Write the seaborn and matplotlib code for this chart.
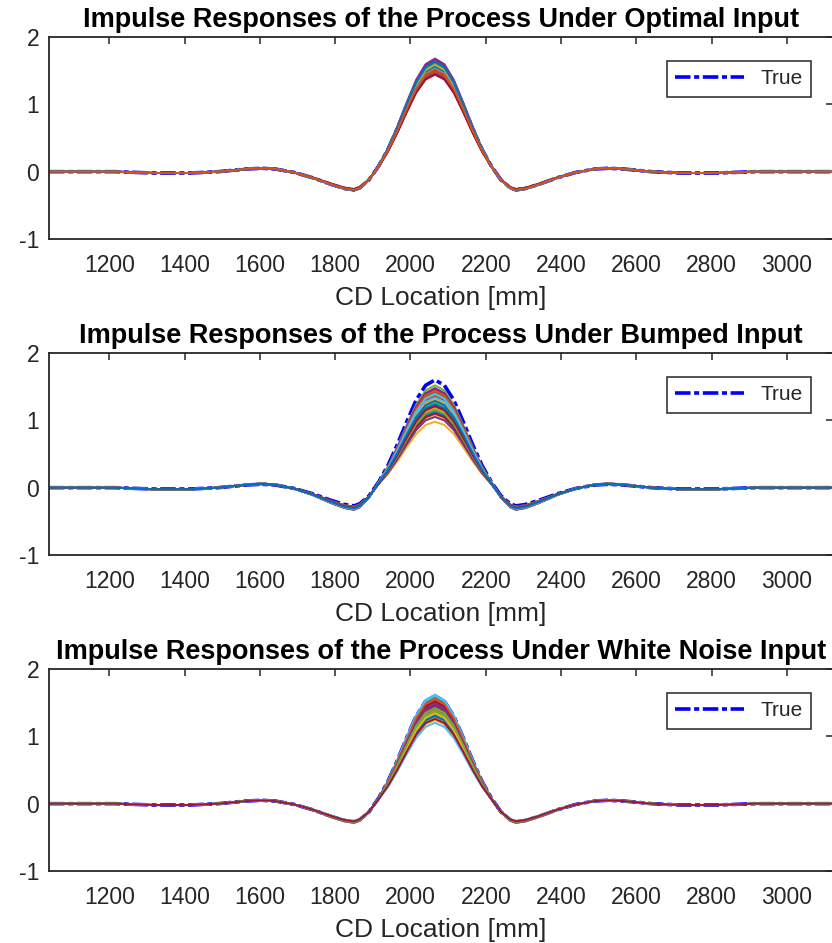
import numpy as np
import pandas as pd
import matplotlib
matplotlib.use("Agg")
import matplotlib.pyplot as plt
import seaborn as sns

# CD location grid and the true impulse response
cd_location = [1040, 1215, 1315, 1415, 1490, 1565, 1605, 1640, 1690, 1740, 1790,
               1825, 1850, 1865, 1890, 1915, 1940, 1965, 1990, 2015, 2040, 2065,
               2090, 2115, 2140, 2165, 2190, 2215, 2240, 2265, 2280, 2305, 2340,
               2390, 2440, 2490, 2525, 2565, 2640, 2715, 2815, 2915, 3125]
true_response = [0.0, 0.0, -0.02, -0.02, 0.0, 0.04, 0.05, 0.04, -0.01, -0.09, -0.19,
                 -0.25, -0.27, -0.24, -0.12, 0.08, 0.33, 0.64, 0.98, 1.30, 1.52, 1.60,
                 1.52, 1.30, 0.98, 0.64, 0.33, 0.08, -0.12, -0.24, -0.27, -0.25, -0.19,
                 -0.09, -0.01, 0.04, 0.05, 0.04, 0.0, -0.02, -0.02, 0.0, 0.0]

# peak heights and side-lobe gains of the estimated responses, per input type
optimal_peaks = [1.58, 1.55, 1.47, 1.68, 1.49, 1.64, 1.57, 1.51, 1.60, 1.45, 1.66,
                 1.54, 1.62, 1.50, 1.56, 1.48, 1.59, 1.46, 1.61, 1.53, 1.44, 1.63,
                 1.52]
optimal_sides = [1.00, 0.98, 0.97, 1.04, 0.97, 1.02, 1.00, 0.98, 1.01, 0.96, 1.03,
                 0.99, 1.02, 0.98, 1.00, 0.97, 1.01, 0.96, 1.02, 0.99, 0.96, 1.02,
                 1.00]

bumped_peaks = [1.20, 1.33, 0.98, 1.42, 1.52, 1.25, 1.36, 1.15, 1.30, 1.08, 1.46,
                1.40, 1.28, 1.22, 1.12, 1.38, 1.18, 1.48, 1.27, 1.34, 1.10, 1.24,
                1.44, 1.31, 1.05, 1.16, 1.39, 1.21, 1.29]
bumped_sides = [1.10, 1.15, 1.05, 1.18, 1.22, 1.12, 1.16, 1.08, 1.14, 1.06, 1.20,
                1.17, 1.13, 1.11, 1.07, 1.16, 1.09, 1.21, 1.12, 1.15, 1.06, 1.10,
                1.19, 1.13, 1.04, 1.08, 1.17, 1.10, 1.14]

noise_peaks = [1.58, 1.40, 1.28, 1.50, 1.36, 1.62, 1.46, 1.32, 1.54, 1.24, 1.44,
               1.38, 1.60, 1.52, 1.30, 1.56, 1.34, 1.48, 1.42, 1.20, 1.26]
noise_sides = [1.05, 1.00, 0.97, 1.03, 0.99, 1.06, 1.02, 0.98, 1.04, 0.96, 1.01,
               1.00, 1.05, 1.03, 0.97, 1.04, 0.98, 1.02, 1.01, 0.95, 0.97]

titles = ["Impulse Responses of the Process Under Optimal Input",
          "Impulse Responses of the Process Under Bumped Input",
          "Impulse Responses of the Process Under White Noise Input"]

matlab_colors = ["#0072BD", "#D95319", "#EDB120", "#7E2F8E",
                 "#77AC30", "#4DBEEE", "#A2142F"]


def make_frame(peaks, sides):
    x = np.array(cd_location, dtype=float)
    y = np.array(true_response)
    main = (y > 0) & (np.abs(x - 2065) < 170)
    rows = []
    for i, (p, s) in enumerate(zip(peaks, sides)):
        est = np.where(main, y * p / max(true_response), y * s)
        rows.append(pd.DataFrame({"cd": x, "resp": est, "run": i}))
    return pd.concat(rows, ignore_index=True)


sns.set_style("white")
plt.rcParams["font.family"] = ["Liberation Sans", "DejaVu Sans"]
plt.rcParams["axes.unicode_minus"] = False

fig = plt.figure(figsize=(8.32, 9.43), dpi=100)
W, H = 832, 943
tops = [37, 353, 669]
ax_h = 202
left_px, right_px = 49, 833

panels = [(optimal_peaks, optimal_sides),
          (bumped_peaks, bumped_sides),
          (noise_peaks, noise_sides)]

true_df = pd.DataFrame({"cd": cd_location, "resp": true_response})
dark = "#262626"

for k, (peaks, sides) in enumerate(panels):
    top = tops[k]
    ax = fig.add_axes([left_px / W, 1 - (top + ax_h) / H,
                       (right_px - left_px) / W, ax_h / H])
    sns.lineplot(data=true_df, x="cd", y="resp", ax=ax, color="#0000FF",
                 lw=2.6, label="True")
    ax.lines[0].set_dashes([4.3, 1.0, 1.4, 1.0])
    df = make_frame(peaks, sides)
    n = len(peaks)
    pal = [matlab_colors[i % 7] for i in range(n)]
    sns.lineplot(data=df, x="cd", y="resp", hue="run", palette=pal, ax=ax,
                 lw=1.4, legend=False, estimator=None)

    ax.set_xlim(1040, 3122)
    ax.set_ylim(-1, 2)
    ax.set_xticks(range(1200, 3001, 200))
    ax.set_yticks([-1, 0, 1, 2])
    ax.tick_params(direction="in", length=5, width=1.1, colors=dark,
                   labelsize=16.5, top=True, right=True)
    ax.tick_params(axis="x", pad=11)
    ax.tick_params(axis="y", pad=7)
    for sp in ax.spines.values():
        sp.set_color(dark)
        sp.set_linewidth(1.3)
    ax.set_title(titles[k], fontsize=19.5, fontweight="bold", pad=7, color="black")
    ax.set_xlabel("CD Location [mm]", fontsize=19, color=dark, labelpad=6.5)
    ax.set_ylabel("")

    handle = ax.lines[0]
    leg = ax.legend([handle], ["True"], loc="upper right",
                    bbox_to_anchor=(0.972, 0.881), borderaxespad=0,
                    fontsize=15, handlelength=3.3, fancybox=False,
                    framealpha=1, edgecolor=dark)
    leg.get_frame().set_linewidth(1.1)

fig.savefig("out.png", dpi=100)
